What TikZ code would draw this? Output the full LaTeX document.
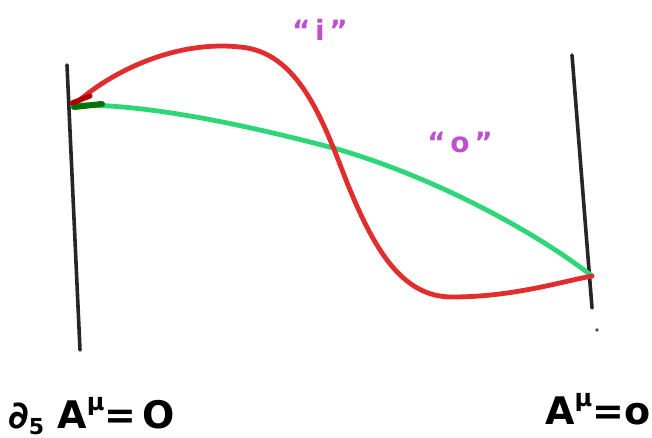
\documentclass[tikz,border=0pt]{standalone}
\usepackage{fontspec}
\setmainfont{DejaVu Sans}
\definecolor{hred}{RGB}{225,45,45}
\definecolor{hgreen}{RGB}{45,215,120}
\definecolor{hmag}{RGB}{190,80,205}
\begin{document}
\begin{tikzpicture}[x=1pt,y=-1pt,
  wall/.style={line width=3.6pt,black!85,line cap=round},
  curve/.style={line width=4.8pt,line cap=round},
  quote/.style={text=hmag,font=\fontsize{28}{28}\selectfont\bfseries,inner sep=0pt},
  cond/.style={font=\fontsize{38}{38}\selectfont\bfseries,inner sep=0pt,anchor=base west}]
\useasboundingbox (0,0) rectangle (652,438);
\coordinate (lt) at (67,65);
\coordinate (lb) at (80,350);
\coordinate (rt) at (572,55);
\coordinate (rb) at (592,308);
\draw[wall] (lt) -- (lb);
\draw[wall] (rt) -- (rb);
\fill[black!70] (597,330) circle (1.8pt);
\coordinate (ls) at (74,105);
\coordinate (re) at (592,276);
\draw[curve,hgreen] (ls) .. controls (150,104) and (250,126) .. (337,149)
  .. controls (430,176) and (530,228) .. (re);
\draw[curve,hred] (ls) .. controls (110,72) and (175,40) .. (240,47)
  .. controls (298,52) and (322,118) .. (346,180)
  .. controls (374,250) and (402,297) .. (452,297)
  .. controls (512,297) and (560,282) .. (re);
\draw[line width=6pt,green!45!black,line cap=round] (74,107) -- (102,104);
\draw[line width=5pt,red!70!black,line cap=round] (72,103) -- (90,96);
\node[quote] (qi) at (320,30) {“\,i\,”};
\node[quote] (qo) at (460,142) {“\,o\,”};
\node[cond] (c1) at (8,428) {∂\raisebox{-6pt}{\fontsize{22}{22}\selectfont\bfseries 5} A\raisebox{18pt}{\fontsize{24}{24}\selectfont\bfseries μ}=\,O};
\node[cond] (c2) at (545,424) {A\raisebox{18pt}{\fontsize{24}{24}\selectfont\bfseries μ}=o};
\end{tikzpicture}
\end{document}
